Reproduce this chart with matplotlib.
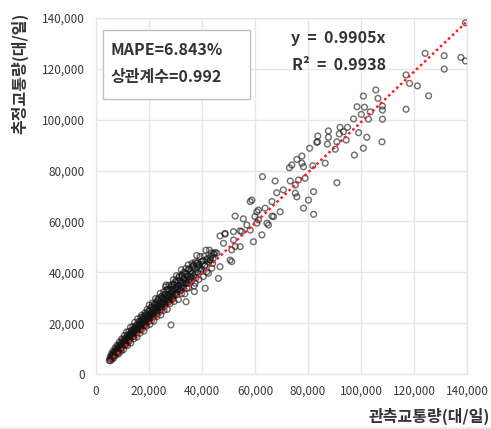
import matplotlib
matplotlib.use("Agg")
import matplotlib.pyplot as plt
from matplotlib.ticker import FuncFormatter
from matplotlib.patches import Rectangle

plt.rcParams['font.family'] = ['Noto Sans CJK KR', 'DejaVu Sans']

# values in thousand vehicles/day
observed_k = [
    # sparse upper part
    139.4, 124.2, 131.4, 131.4, 137.7, 139.4, 117.0, 118.3, 121.3, 125.5, 117.0, 105.6, 100.9, 106.4,
    108.1, 108.1, 108.1, 98.5, 101.3, 103.5, 100.1, 97.2, 102.8, 92.1, 94.9, 87.7, 83.7, 87.7, 91.8,
    93.4, 83.3, 83.6, 87.3, 90.9, 94.4, 99.1, 102.2, 107.9, 100.9, 97.5, 90.3, 80.6, 77.7, 77.7, 78.3,
    73.9, 73.0, 81.8, 86.5, 90.9, 62.8, 67.6, 73.3, 76.4, 78.9, 75.2, 68.2, 70.7, 75.2, 82.1, 58.8,
    66.4, 80.2, 78.3, 69.5, 82.1, 60.7, 75.8, 75.8,
    # middle part
    52.5, 55.6, 58.2, 60.0, 61.3, 64.5, 62.6, 59.4, 54.4, 51.9, 48.7, 48.1, 51.2, 50.6, 45.6, 43.1,
    38.0, 38.6, 54.4, 46.8, 46.8, 46.2, 41.8, 63.8, 61.3, 66.4, 65.1, 51.9, 58.2, 56.9, 67.0, 55.0,
    60.7, 52.5, 43.7, 44.3, 36.7, 42.4, 37.4, 34.3, 41.2, 51.2, 48.7,
    # dense lower band
    5.0, 5.2, 5.4, 5.5, 5.7, 5.9, 6.0, 6.1, 6.3, 6.4, 6.6, 6.7, 6.9, 7.0, 7.2, 7.3, 7.5, 7.6, 7.8,
    7.9, 8.1, 8.2, 8.4, 8.5, 8.6, 8.8, 8.9, 9.1, 9.2, 9.4, 9.5, 9.7, 9.8, 10.0, 10.1, 10.3, 10.4,
    10.6, 10.7, 10.9, 11.0, 11.2, 11.3, 11.5, 11.6, 11.8, 11.9, 12.1, 12.2, 12.4, 12.5, 12.7, 12.8,
    13.0, 13.1, 13.3, 13.4, 13.6, 13.7, 13.9, 14.0, 14.2, 14.3, 14.5, 14.6, 14.8, 14.9, 15.1, 15.2,
    15.4, 15.5, 15.7, 15.8, 16.0, 16.1, 16.3, 16.4, 16.6, 16.7, 16.9, 17.0, 17.2, 17.3, 17.5, 17.6,
    17.8, 17.9, 18.1, 18.2, 18.4, 18.5, 18.7, 18.8, 19.0, 19.1, 19.3, 19.4, 19.6, 19.7, 19.9, 20.0,
    20.1, 20.3, 20.4, 20.6, 20.7, 20.9, 21.0, 21.2, 21.3, 21.5, 21.6, 21.8, 21.9, 22.1, 22.2, 22.4,
    22.5, 22.7, 22.8, 23.0, 23.1, 23.3, 23.4, 23.6, 23.7, 23.9, 24.0, 24.2, 24.3, 24.5, 24.6, 24.8,
    24.9, 25.1, 25.2, 25.4, 25.5, 25.7, 25.8, 26.0, 26.1, 26.3, 26.4, 26.6, 26.7, 26.9, 27.0, 27.2,
    27.3, 27.5, 27.6, 27.8, 27.9, 28.1, 28.3, 28.4, 28.6, 28.7, 28.9, 29.0, 29.2, 29.4, 29.5, 29.7,
    29.9, 30.0, 30.2, 30.4, 30.5, 30.7, 30.9, 31.1, 31.2, 31.4, 31.6, 31.8, 32.0, 32.2, 32.3, 32.5,
    32.7, 32.9, 33.1, 33.3, 33.5, 33.7, 33.9, 34.0, 34.2, 34.4, 34.6, 34.8, 35.0, 35.2, 35.5, 35.7,
    36.0, 36.2, 36.5, 36.7, 37.0, 37.1, 37.3, 37.5, 37.8, 38.2, 38.5, 38.8, 39.0, 39.3, 39.6, 39.9,
    40.2, 40.5, 40.8, 41.2, 41.5, 42.1, 42.8, 43.1, 43.5, 44.0, 44.5,
    # dense lower band, second layer
    6.5, 7.1, 7.7, 8.3, 8.7, 9.3, 9.6, 9.9, 10.2, 10.5, 10.8, 11.1, 11.4, 11.7, 12.0, 12.3, 12.6,
    12.9, 13.2, 13.5, 13.8, 14.1, 14.4, 14.7, 15.0, 15.3, 15.6, 15.9, 16.2, 16.5, 16.8, 17.1, 17.4,
    17.7, 18.0, 18.3, 18.6, 18.9, 19.2, 19.5, 19.8, 20.2, 20.5, 20.8, 21.1, 21.4, 21.7, 22.0, 22.3,
    22.6, 22.9, 23.2, 23.5, 23.8, 24.1, 24.4, 24.7, 25.0, 25.3, 25.6, 25.9, 26.2, 26.5, 26.8, 27.1,
    27.4, 27.7, 28.0, 28.3, 28.6, 28.9, 29.2, 29.6, 29.9, 30.2, 30.6, 30.9, 31.3, 31.7, 32.0, 32.4,
    32.8, 33.2, 33.6, 34.0, 34.4, 34.9, 35.3, 35.8, 36.3, 36.8, 37.3, 37.9, 38.4, 39.0, 39.7, 40.4,
    41.0, 41.8, 42.6, 43.4, 44.2, 45.0, 9.0, 11.0, 13.0, 15.0, 17.0, 19.0, 21.0, 23.0, 25.0, 27.0,
    29.0, 31.0, 33.0, 35.0, 14.0, 16.0, 18.0, 20.0, 22.0, 24.0, 26.0, 28.0, 30.0, 32.0, 34.0, 36.0,
]
estimated_k = [
    # sparse upper part
    138.1, 126.1, 125.2, 119.9, 124.5, 123.1, 117.6, 114.3, 113.3, 109.4, 104.1, 111.7, 109.3, 108.4,
    105.4, 103.8, 100.2, 105.1, 104.9, 103.1, 102.1, 100.3, 100.2, 97.0, 97.0, 95.6, 93.6, 93.1, 94.4,
    95.3, 91.1, 91.3, 90.4, 91.3, 92.0, 94.9, 93.1, 91.3, 88.8, 86.1, 88.4, 88.8, 85.7, 82.9, 81.5,
    82.2, 81.1, 81.9, 82.9, 75.2, 77.6, 75.9, 75.9, 76.3, 77.0, 74.3, 71.3, 72.4, 71.1, 71.7, 68.4,
    67.8, 68.4, 65.2, 63.8, 62.8, 63.8, 69.7, 84.4,
    # middle part
    62.1, 61.0, 67.8, 61.9, 64.5, 59.3, 54.7, 52.0, 56.3, 52.7, 55.0, 51.4, 48.8, 44.8, 47.5, 44.8,
    46.6, 42.9, 50.1, 42.2, 54.3, 37.6, 40.2, 65.2, 60.6, 62.1, 58.6, 56.0, 56.6, 58.6, 61.9, 56.0,
    59.3, 50.1, 41.6, 47.5, 42.9, 39.6, 35.7, 33.7, 33.7, 44.2, 55.3,
    # dense lower band
    5.3, 6.1, 5.2, 7.0, 6.3, 8.0, 5.7, 7.3, 6.7, 9.0, 7.6, 6.3, 8.8, 7.5, 10.2, 8.7, 7.4, 9.9, 8.6,
    11.3, 9.7, 8.3, 11.1, 7.9, 9.7, 12.6, 10.9, 9.5, 12.1, 10.7, 9.0, 13.8, 12.0, 10.7, 13.4, 11.9, 9.6,
    13.1, 15.1, 11.9, 14.1, 11.4, 13.3, 16.5, 13.1, 15.4, 11.2, 14.8, 13.3, 16.7, 12.9, 15.7, 14.7,
    18.4, 12.2, 15.7, 17.2, 14.5, 15.4, 18.6, 16.9, 13.8, 17.8, 15.8, 20.3, 17.0, 15.2, 19.1, 17.0,
    18.5, 14.5, 21.7, 18.4, 16.8, 20.6, 17.9, 19.8, 16.1, 19.0, 22.2, 18.1, 21.1, 23.2, 17.7, 20.4,
    22.6, 19.4, 16.9, 21.8, 20.5, 24.1, 19.3, 23.0, 21.9, 18.8, 25.4, 21.2, 23.1, 20.6, 24.8, 22.4,
    27.1, 19.5, 23.6, 22.0, 26.2, 23.6, 21.1, 25.6, 27.9, 23.4, 25.3, 20.7, 24.4, 27.2, 23.0, 26.3,
    29.7, 24.3, 27.4, 22.6, 25.9, 29.3, 24.6, 27.0, 29.0, 24.2, 26.2, 31.7, 28.4, 23.2, 26.3, 30.6,
    27.9, 25.8, 29.9, 27.8, 32.3, 25.1, 29.4, 27.3, 31.3, 34.3, 35.0, 28.6, 31.0, 25.4, 33.3, 28.2,
    30.5, 34.9, 30.2, 32.8, 27.7, 32.0, 19.3, 30.2, 35.1, 33.3, 29.3, 31.9, 37.1, 34.8, 28.5, 33.2,
    31.3, 36.1, 34.2, 38.7, 31.1, 33.4, 36.5, 29.3, 35.0, 38.4, 33.2, 36.7, 34.2, 41.0, 31.6, 38.4,
    35.8, 33.8, 40.0, 37.7, 31.5, 36.2, 41.5, 28.4, 39.3, 35.6, 38.3, 42.9, 33.9, 41.2, 38.3, 40.3,
    36.3, 43.5, 39.8, 42.5, 34.6, 32.4, 39.2, 44.1, 37.9, 42.1, 43.7, 37.2, 41.4, 46.2, 40.4, 44.2,
    43.2, 38.3, 46.3, 42.8, 48.7, 45.5, 48.7, 44.8, 47.6, 43.5, 47.1,
    # dense lower band, second layer
    7.9, 8.0, 9.2, 9.9, 10.5, 11.0, 10.3, 11.6, 12.4, 11.4, 12.9, 12.6, 13.8, 12.4, 14.1, 13.9, 15.0,
    13.8, 16.1, 15.0, 16.6, 15.2, 16.9, 18.3, 16.4, 17.9, 19.5, 17.2, 18.9, 20.7, 17.9, 19.8, 21.5,
    18.9, 20.6, 22.9, 20.0, 21.7, 23.9, 20.8, 22.6, 25.0, 21.8, 23.9, 26.4, 22.7, 24.6, 27.6, 24.0,
    25.6, 28.3, 24.5, 26.9, 30.0, 25.6, 27.5, 29.6, 26.2, 28.5, 31.0, 27.0, 29.8, 33.0, 28.2, 30.9,
    33.2, 29.0, 31.4, 34.3, 30.0, 32.6, 35.4, 31.0, 33.8, 36.9, 32.0, 34.5, 37.8, 33.2, 35.9, 39.0,
    34.5, 37.3, 39.8, 35.8, 38.6, 41.3, 37.2, 39.5, 42.0, 38.6, 41.5, 43.6, 40.0, 42.9, 41.2, 44.6,
    42.6, 45.0, 44.0, 46.2, 45.4, 47.8, 10.0, 11.8, 14.3, 17.8, 18.9, 20.2, 23.1, 24.4, 27.5, 29.8,
    30.6, 33.6, 35.6, 36.8, 14.9, 17.3, 19.5, 21.0, 22.9, 25.3, 27.9, 29.0, 31.4, 32.8, 36.9, 37.9,
]
trend_slope = 0.9905
trend_range_k = [5.0, 139.5]
x_ticks = [0, 20000, 40000, 60000, 80000, 100000, 120000, 140000]
y_ticks = [0, 20000, 40000, 60000, 80000, 100000, 120000, 140000]
x_label = "관측교통량(대/일)"
y_label = "추정교통량(대/일)"
stats_lines = ["MAPE=6.843%", "상관계수=0.992"]
eq_lines = ["y  =  0.9905x", "R²  =  0.9938"]

W, H = 491, 429
fig = plt.figure(figsize=(W / 100, H / 100), dpi=100)
ax = fig.add_axes([96 / W, 1 - 374 / H, (467 - 96) / W, (374 - 18) / H])

xs = [v * 1000 for v in observed_k]
ys = [v * 1000 for v in estimated_k]
ax.scatter(xs, ys, s=17, facecolors='none', edgecolors=(0.08, 0.08, 0.08, 0.6), linewidths=1.05, zorder=3)

tx = [v * 1000 for v in trend_range_k]
ty = [trend_slope * v for v in tx]
ax.plot(tx, ty, color='#ff1a1a', linestyle=(0, (1, 1.2)), linewidth=1.8, zorder=4)

ax.set_xlim(0, 140000)
ax.set_ylim(0, 140000)
ax.set_xticks(x_ticks)
ax.set_yticks(y_ticks)
fmt = FuncFormatter(lambda v, p: f"{v:,.0f}")
ax.xaxis.set_major_formatter(fmt)
ax.yaxis.set_major_formatter(fmt)
ax.tick_params(length=0, labelsize=8.5, colors='#3a3a3a', pad=8)
ax.grid(True, color='#e6e6e6', linewidth=1.0, zorder=0)
ax.set_axisbelow(True)
for s in ax.spines.values():
    s.set_color('#e6e6e6')
    s.set_linewidth(1.0)

fig.text(20 / W, 1 - 73 / H, y_label, rotation=90, ha='center', va='center',
         fontsize=11.5, fontweight='bold', color='#333333')
fig.text(490 / W, 1 - 416 / H, x_label, ha='right', va='center',
         fontsize=11.5, fontweight='bold', color='#333333')

fig.add_artist(Rectangle((103 / W, 1 - 99 / H), 147 / W, 69 / H, transform=fig.transFigure,
                         facecolor='white', edgecolor='#bfbfbf', linewidth=1.0, zorder=5))
fig.text(111 / W, 1 - 50 / H, stats_lines[0], ha='left', va='center', fontsize=11.5,
         fontweight='bold', color='#333333', zorder=6)
fig.text(111 / W, 1 - 77 / H, stats_lines[1], ha='left', va='center', fontsize=11.5,
         fontweight='bold', color='#333333', zorder=6)
fig.text(291 / W, 1 - 38 / H, eq_lines[0], ha='left', va='center', fontsize=11.5,
         fontweight='bold', color='#333333')
fig.text(292 / W, 1 - 65 / H, eq_lines[1], ha='left', va='center', fontsize=11.5,
         fontweight='bold', color='#333333')

fig.add_artist(Rectangle((0, 0), 1, 2 / H, transform=fig.transFigure, facecolor='#ececec',
                         edgecolor='none'))

fig.savefig("out.png", dpi=100)
